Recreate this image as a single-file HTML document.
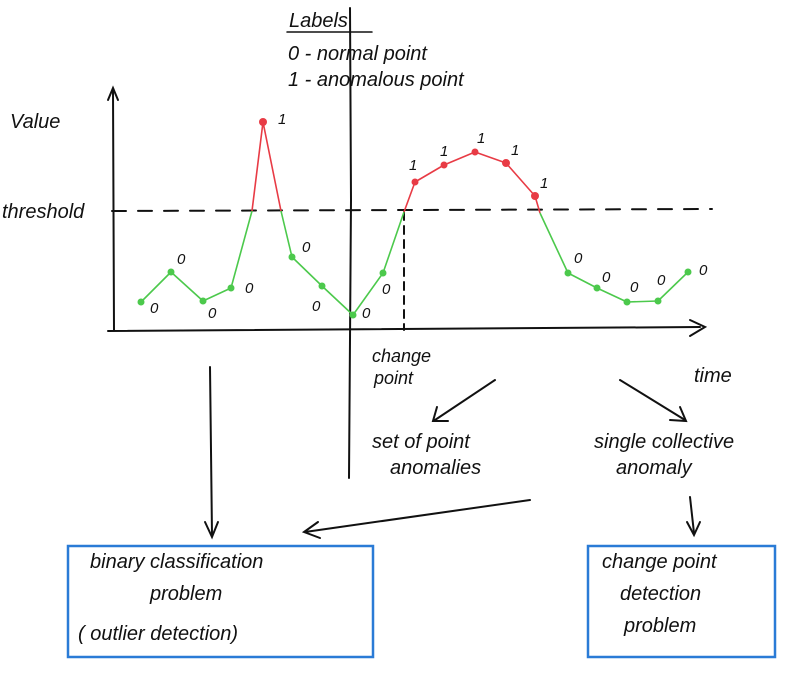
<!DOCTYPE html>
<html><head><meta charset="utf-8"><style>
html,body{margin:0;padding:0;background:#fff}
svg{display:block}
text{font-family:"Liberation Sans",sans-serif;font-style:italic;fill:#111}
</style></head><body>
<svg width="800" height="687" viewBox="0 0 800 687" xmlns="http://www.w3.org/2000/svg">
<g fill="none" stroke="#111" stroke-width="2" stroke-linecap="round">
<!-- axes -->
<path d="M114,330 L113,90"/><path d="M108,100 L113,88 L118,100"/>
<path d="M108,331 L700,327"/><path d="M690,320 L705,327 L690,336"/>
<!-- divider -->
<path d="M350,8 L351,200 L349,478"/>
<!-- threshold -->
<path d="M112,211 L712,209" stroke-dasharray="14,12"/>
<path d="M404,212 L404,330" stroke-dasharray="8,6"/>
<!-- underline Labels -->
<path d="M287,32 L372,32" stroke-width="1.5"/>
<!-- arrows -->
<path d="M210,367 L212,535"/><path d="M205,522 L212,537 L218,522"/>
<path d="M495,380 L435,420"/><path d="M437,407 L433,421 L448,421"/>
<path d="M620,380 L685,420"/><path d="M670,420 L686,421 L680,407"/>
<path d="M530,500 L305,532"/><path d="M318,522 L304,532 L320,538"/>
<path d="M690,497 L694,533"/><path d="M687,522 L694,535 L700,522"/>
</g>
<!-- boxes -->
<rect x="68" y="546" width="305" height="111" fill="none" stroke="#2a7bd6" stroke-width="2.5"/>
<rect x="588" y="546" width="187" height="111" fill="none" stroke="#2a7bd6" stroke-width="2.5"/>
<!-- curves -->
<g fill="none" stroke-width="1.6" stroke-linejoin="round">
<path stroke="#4cc94c" d="M141,302 L171,272 L203,301 L231,288 L252,211"/>
<path stroke="#e83b45" d="M252,211 L263,122 L281,211"/>
<path stroke="#4cc94c" d="M281,211 L292,257 L322,286 L353,315 L383,273 L404,212"/>
<path stroke="#e83b45" d="M404,212 L415,182 L444,165 L475,152 L506,163 L535,196 L540,213"/>
<path stroke="#4cc94c" d="M540,213 L568,273 L597,288 L627,302 L658,301 L688,272"/>
</g>
<g fill="#4cc94c">
<circle cx="141" cy="302" r="3.5"/><circle cx="171" cy="272" r="3.5"/><circle cx="203" cy="301" r="3.5"/><circle cx="231" cy="288" r="3.5"/>
<circle cx="292" cy="257" r="3.5"/><circle cx="322" cy="286" r="3.5"/><circle cx="353" cy="315" r="3.5"/><circle cx="383" cy="273" r="3.5"/>
<circle cx="568" cy="273" r="3.5"/><circle cx="597" cy="288" r="3.5"/><circle cx="627" cy="302" r="3.5"/><circle cx="658" cy="301" r="3.5"/><circle cx="688" cy="272" r="3.5"/>
</g>
<g fill="#e83b45">
<circle cx="263" cy="122" r="4"/><circle cx="415" cy="182" r="3.5"/><circle cx="444" cy="165" r="3.5"/><circle cx="475" cy="152" r="3.5"/><circle cx="506" cy="163" r="4"/><circle cx="535" cy="196" r="4"/>
</g>
<g font-size="15">
<text x="150" y="313">0</text><text x="177" y="264">0</text><text x="208" y="318">0</text><text x="245" y="293">0</text>
<text x="278" y="124">1</text><text x="302" y="252">0</text><text x="312" y="311">0</text><text x="362" y="318">0</text><text x="382" y="294">0</text>
<text x="409" y="170">1</text><text x="440" y="156">1</text><text x="477" y="143">1</text><text x="511" y="155">1</text><text x="540" y="188">1</text>
<text x="574" y="263">0</text><text x="602" y="282">0</text><text x="630" y="292">0</text><text x="657" y="285">0</text><text x="699" y="275">0</text>
</g>
<g font-size="20">
<text x="289" y="27">Labels</text>
<text x="288" y="60">0 - normal point</text>
<text x="288" y="86">1 - anomalous point</text>
<text x="10" y="128">Value</text>
<text x="2" y="218">threshold</text>
<text x="694" y="382">time</text>
<text x="372" y="362" font-size="18">change</text>
<text x="374" y="384" font-size="18">point</text>
<text x="372" y="448">set of point</text>
<text x="390" y="474">anomalies</text>
<text x="594" y="448">single collective</text>
<text x="616" y="474">anomaly</text>
<text x="90" y="568">binary classification</text>
<text x="150" y="600">problem</text>
<text x="78" y="640">( outlier detection)</text>
<text x="602" y="568">change point</text>
<text x="620" y="600">detection</text>
<text x="624" y="632">problem</text>
</g>
</svg>
</body></html>
